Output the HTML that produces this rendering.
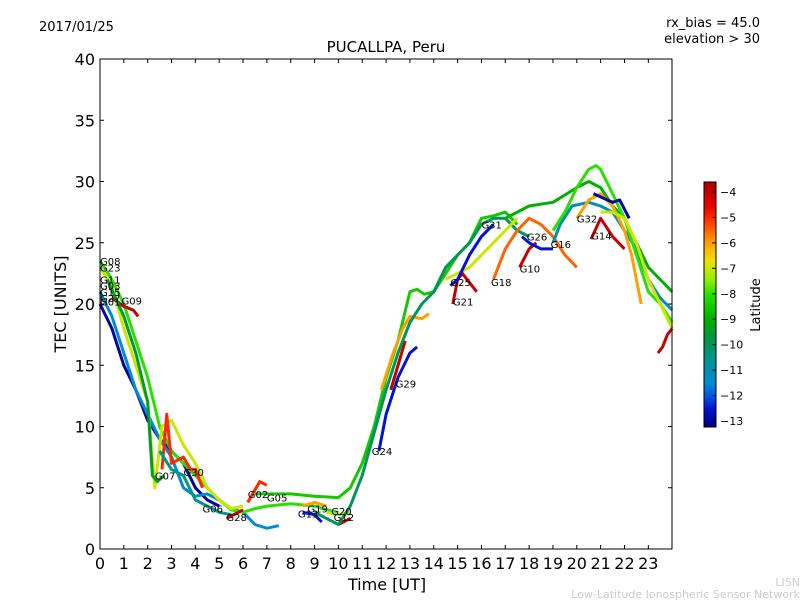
<!DOCTYPE html>
<html><head><meta charset="utf-8"><style>
body{margin:0;background:#fff;font-family:"Liberation Sans","DejaVu Sans",sans-serif}
svg text{font-family:"DejaVu Sans","Liberation Sans",sans-serif}
</style></head><body>
<svg id="chart" width="800" height="600" xmlns="http://www.w3.org/2000/svg">
<rect width="800" height="600" fill="#fff"/>
<text x="39" y="31" font-size="13">2017/01/25</text>
<text x="760" y="27" font-size="13" text-anchor="end">rx_bias = 45.0</text>
<text x="760" y="43" font-size="13" text-anchor="end">elevation &gt; 30</text>
<text x="386" y="52" font-size="15" text-anchor="middle">PUCALLPA, Peru</text>
<g id="tracks"></g>
<g id="labels"></g>
<rect x="100" y="59" width="572" height="490" fill="none" stroke="#000"/>
<g id="axes"></g>
<text x="387" y="590" font-size="16" text-anchor="middle">Time [UT]</text>
<text transform="translate(66,304) rotate(-90)" font-size="16" text-anchor="middle">TEC [UNITS]</text>
<defs><linearGradient id="jet" x1="0" y1="0" x2="0" y2="1"></linearGradient></defs>
<rect x="704" y="182" width="12" height="245" fill="url(#jet)" stroke="#000"/>
<g id="cbticks"></g>
<text transform="translate(760,305) rotate(-90)" font-size="13" text-anchor="middle">Latitude</text>
<text x="800" y="586" font-size="11" fill="#ccc" text-anchor="end">LISN</text>
<text x="800" y="598" font-size="11" fill="#ccc" text-anchor="end">Low-Latitude Ionospheric Sensor Network</text>
</svg>
<script>
const xTicks=[0,1,2,3,4,5,6,7,8,9,10,11,12,13,14,15,16,17,18,19,20,21,22,23];
const yTicks=[0,5,10,15,20,25,30,35,40];
const cbTicks=[-4,-5,-6,-7,-8,-9,-10,-11,-12,-13];
const trackNames=["G01","G11","G08","G23","G09","G07","G30","G06","G28","G02","G05","G19","G13","G12","G20","G24","G29","G29b","G03","G25","G21","G31","G18","G10","G26","G16","G27","G04","G32","G14","G22","G15","G17"];
const trackLats=[-13,-11.5,-8,-7,-4,-9.5,-5,-10.5,-4,-5,-8.5,-6,-12.5,-4,-7,-12.5,-4,-6,-10,-7,-4,-12.5,-5.5,-4,-12.5,-11,-9,-8,-6,-4,-7,-4,-13];
const trackTimes=[
[0,0.5,1,1.5,2,2.5,3,3.5,4,4.5,5],
[0,0.5,1,1.5,2,2.5,3,3.5,4,4.5,5,5.5,6,6.5,7,7.5],
[0,0.5,1,1.5,2,2.5,3,3.5,4,4.5,5,5.5,6,6.5,7,8,9,9.5,10],
[0,0.5,1,1.5,2,2.3,2.6,3,3.5,4,4.5,5,5.5,6],
[0.5,1,1.4,1.6],
[0.3,1,1.5,2,2.2,2.4,2.7],
[2.6,2.8,3,3.5,3.8,4,4.3],
[2.5,3,3.5,4,4.5,5,5.5],
[5.3,5.8,6],
[6.2,6.7,7],
[6.5,7,8,9,10,10.5,11,11.5,12,12.5,13,13.3,13.6,14,14.5,15,15.5,16,16.5,17,17.5,18],
[8.5,9,9.5],
[8.5,9,9.3],
[10,10.3,10.5],
[9.5,10,10.5],
[11.7,12,12.5,13,13.3],
[12.2,12.5,12.8],
[11.8,12.3,12.7,13,13.5,13.8],
[9,9.5,10,10.5,11,11.5,12,12.5,13,13.5,14,14.5,15,15.5,16,16.5,17,17.5,18],
[14.5,15,15.5,16,16.5,17,17.5],
[14.8,15,15.2,15.8],
[14.7,15,15.5,16,16.5],
[16.5,17,17.5,18,18.5,19,19.5,20],
[17.6,18,18.3],
[17.7,18,18.5,19],
[19,19.3,19.8,20.5,21,21.5,22,22.5,23,23.5,24],
[17,18,19,20,20.5,21,21.5,22,22.5,23,23.5,24],
[19,19.5,20,20.5,20.8,21,21.5,22,22.5,23,23.5,24],
[20,20.5,21,21.5,22,22.3,22.7],
[20.6,21,21.5,22],
[21,21.5,22,22.5,23,23.5,24],
[23.4,23.6,23.8,24],
[20.7,21.5,21.8,22.2]];
const trackValues=[
[20,18,15,13,10.5,9,8,7,5,4,3.5],
[21,19,16,13,11,9,7.5,5,4.3,4.5,4,3.3,3,2,1.7,1.9],
[23.5,22,20,17,14,10,8,7,6,5,4,3.2,3,3.3,3.5,3.7,3.5,3.2,3],
[23,21.5,18,15,12,5,10,10.5,8.5,7,5,4,3.3,3.5],
[20.5,19.8,19.5,19],
[22,19,16,12,6,5.5,6],
[6.5,11,7,7.5,6.5,6.5,5],
[8,6.5,6,4,3.5,3,2.8],
[2.5,3,3.2],
[3.8,5.5,5.2],
[4.5,4.5,4.5,4.3,4.2,5,7,10,14,17,21,21.2,20.8,21,22.5,24,25,27,27.2,27.5,26.5],
[3.5,3.8,3.5],
[3,2.8,2.2],
[2,2.3,2.5],
[3,2.8,3],
[8,11,14,16,16.5],
[13,15,17],
[13,16,18,19,18.8,19.2],
[3,2.5,2,3.5,6,9.5,13,16,18.5,20,21,23,24,25,26.5,27,27,26,25.5],
[22,22.5,23,24,25,26,27],
[20,22,22.5,21],
[21.5,22,24,25.5,26.5],
[22,24.5,26,27,26.5,25.5,24,23],
[23,24.5,25],
[25.5,25,24.5,24.5],
[25,26.5,28,28.3,28,27.5,26,24.5,22,20.5,19.5],
[27,28,28.3,29.5,30,29.5,28,27,25,23,22,21],
[26,27.5,29.5,31,31.3,31,29,27,24,21,20,18.5],
[27,28.5,29,28,26,24,20],
[25.3,27,25.5,24.5],
[27.5,27.5,27,25,22,20,18],
[16,16.5,17.5,18],
[29,28.3,28.5,27]];
const prnLabels=["G08","G23","G11","G03","G15","G27","G01","G09","G07","G30","G06","G28","G02","G05","G19","G13","G20","G12","G24","G29","G25","G21","G31","G18","G10","G26","G16","G32","G14"];
const labelTimes=[0,0,0,0,0,0,0,0.9,2.3,3.5,4.3,5.3,6.2,7.0,8.7,8.3,9.7,9.8,11.4,12.4,14.7,14.8,16.0,16.4,17.6,17.9,18.9,20.0,20.6];
const labelValues=[23.5,23.0,22.0,21.5,21.0,20.5,20.2,20.3,6.0,6.3,3.3,2.6,4.5,4.2,3.3,2.9,3.1,2.6,8.0,13.5,21.8,20.2,26.5,21.8,22.9,25.5,24.9,27.0,25.6];
const NS="http://www.w3.org/2000/svg";
const cStops=[[-3.6,[176,0,0]],[-4.5,[224,0,0]],[-5,[255,40,0]],[-6,[255,160,0]],[-6.7,[240,225,0]],[-7.5,[140,240,0]],[-8,[40,225,0]],[-9,[0,176,0]],[-9.7,[0,150,60]],[-10.5,[0,150,135]],[-11.5,[0,140,210]],[-12,[0,90,225]],[-12.5,[0,20,210]],[-13.24,[0,0,128]]];
function xs(t){return 100+t*23.84;}
function ys(v){return 549-v*12.25;}
function cbY(l){return 192+(-4-l)*25.44;}
function jet(l){
 if(l>=cStops[0][0])return `rgb(${cStops[0][1]})`;
 for(let i=1;i<cStops.length;i++){if(l>=cStops[i][0]){const a=cStops[i-1],b=cStops[i];const f=(a[0]-l)/(a[0]-b[0]);
  return 'rgb('+a[1].map((c,k)=>Math.round(c+(b[1][k]-c)*f)).join(',')+')';}}
 return `rgb(${cStops[cStops.length-1][1]})`;}
const grad=document.getElementById('jet');
cStops.forEach(s=>{const st=document.createElementNS(NS,'stop');st.setAttribute('offset',((cbY(s[0])-182)/245).toFixed(3));st.setAttribute('stop-color','rgb('+s[1].join(',')+')');grad.appendChild(st);});
const tg=document.getElementById('tracks');
for(let i=0;i<trackNames.length;i++){
 const p=document.createElementNS(NS,'polyline');
 p.setAttribute('points',trackTimes[i].map((t,j)=>xs(t).toFixed(1)+','+ys(trackValues[i][j]).toFixed(1)).join(' '));
 p.setAttribute('fill','none');p.setAttribute('stroke',jet(trackLats[i]));p.setAttribute('stroke-width','3');p.setAttribute('stroke-linejoin','round');
 
 
 tg.appendChild(p);}
const lg=document.getElementById('labels');
for(let i=0;i<prnLabels.length;i++){
 const t=document.createElementNS(NS,'text');
 t.setAttribute('x',xs(labelTimes[i]));t.setAttribute('y',ys(labelValues[i])+4);t.setAttribute('font-size','10');
 t.textContent=prnLabels[i];
 
 
 lg.appendChild(t);}
const ag=document.getElementById('axes');
function line(x1,y1,x2,y2){const l=document.createElementNS(NS,'line');l.setAttribute('x1',x1);l.setAttribute('y1',y1);l.setAttribute('x2',x2);l.setAttribute('y2',y2);l.setAttribute('stroke','#000');ag.appendChild(l);return l;}
function txt(x,y,s,a,fs,g){const t=document.createElementNS(NS,'text');t.setAttribute('x',x);t.setAttribute('y',y);t.setAttribute('text-anchor',a);t.setAttribute('font-size',fs);t.textContent=s;(g||ag).appendChild(t);return t;}
xTicks.forEach(t=>{const x=xs(t);line(x,549,x,545);line(x,59,x,63);
 const e=txt(x,569,String(t),'middle',16);
 
 });
yTicks.forEach(v=>{const y=ys(v);line(100,y,104,y);line(672,y,668,y);
 const e=txt(95,y+6,String(v),'end',16);
 
 });
const cg=document.getElementById('cbticks');
cbTicks.forEach(l=>{const y=cbY(l);const k=document.createElementNS(NS,'line');k.setAttribute('x1',716);k.setAttribute('x2',712);k.setAttribute('y1',y);k.setAttribute('y2',y);k.setAttribute('stroke','#000');cg.appendChild(k);
 const e=txt(720,y+4,'\u2212'+Math.abs(l),'start',11,cg);
 
 });
</script>
</body></html>
